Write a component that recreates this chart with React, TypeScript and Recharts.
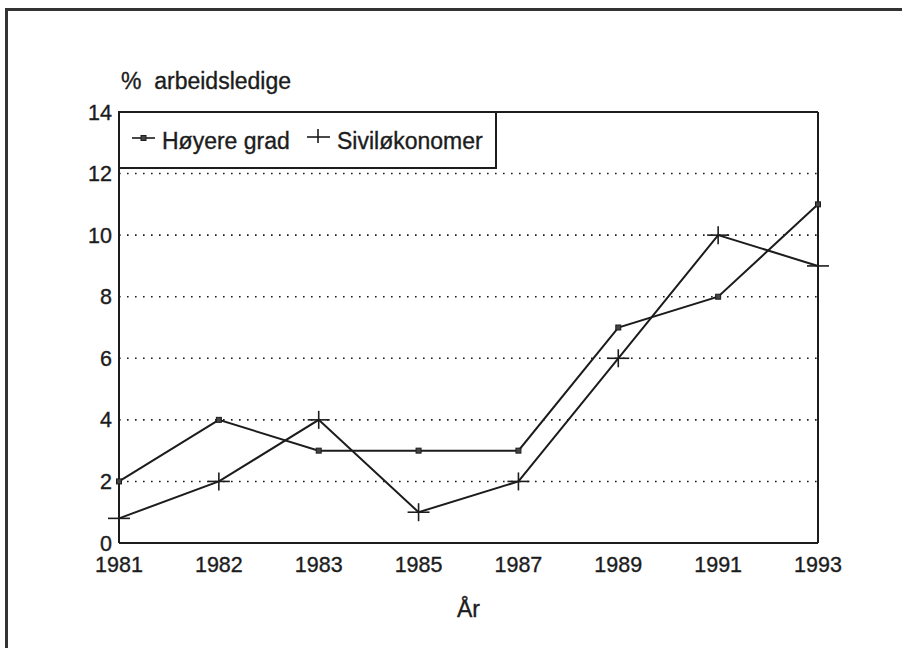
import React from 'react';
import { LineChart, Line, XAxis, YAxis, CartesianGrid, ReferenceLine } from 'recharts';

const years = ['1981', '1982', '1983', '1985', '1987', '1989', '1991', '1993'];
const hoyereGrad = [2, 4, 3, 3, 3, 7, 8, 11];
const sivilokonomer = [0.8, 2, 4, 1, 2, 6, 10, 9];
const yTicks = [0, 2, 4, 6, 8, 10, 12, 14];
const seriesNames = ['Høyere grad', 'Siviløkonomer'];

const data = years.map((y, i) => ({ year: y, hoyere: hoyereGrad[i], sivil: sivilokonomer[i] }));

const INK = '#1c1c1c';
const FONT = '"Liberation Sans", Arial, Helvetica, sans-serif';
const TXT = { stroke: INK, strokeWidth: 0.35 };

const SquareDot = (props: any) => {
  const { cx, cy } = props;
  if (cx == null || cy == null) return null;
  return <rect x={cx - 2.5} y={cy - 2.5} width={5} height={5} fill="#444" stroke={INK} strokeWidth={1} />;
};

const PlusDot = (props: any) => {
  const { cx, cy } = props;
  if (cx == null || cy == null) return null;
  return (
    <g stroke={INK} strokeWidth={1.6}>
      <line x1={cx - 11} y1={cy} x2={cx + 11} y2={cy} />
      <line x1={cx} y1={cy - 9} x2={cx} y2={cy + 9} />
    </g>
  );
};

export default function App() {
  return (
    <div style={{ position: 'absolute', left: 0, top: 0, width: 902, height: 648, overflow: 'hidden', background: '#fff', fontFamily: FONT }}>
      <div style={{ position: 'absolute', left: 5, top: 8, width: 1200, height: 1200, borderLeft: '3px solid #333', borderTop: '3px solid #333' }} />
      <div style={{ position: 'absolute', left: 0, top: 0 }}>
        <LineChart width={902} height={648} data={data} margin={{ top: 112, right: 84, bottom: 65, left: 0 }}>
          <CartesianGrid vertical={false} stroke={INK} strokeWidth={1.6} strokeDasharray="1.6 6.4" />
          <XAxis
            dataKey="year"
            type="category"
            height={40}
            tickSize={0}
            tickMargin={14}
            axisLine={{ stroke: INK, strokeWidth: 2 }}
            tick={{ fill: INK, fontSize: 21.5, fontFamily: FONT, ...TXT }}
            interval={0}
            label={{
              content: (p: any) => {
                const vb = p.viewBox || {};
                return (
                  <text x={vb.x + vb.width / 2} y={617} textAnchor="middle" fill={INK} fontSize={23} fontFamily={FONT} {...TXT}>
                    År
                  </text>
                );
              },
            }}
          />
          <YAxis
            type="number"
            domain={[0, 14]}
            ticks={yTicks}
            width={119}
            tickSize={0}
            tickMargin={7}
            axisLine={{ stroke: INK, strokeWidth: 2 }}
            tick={{ fill: INK, fontSize: 21.5, fontFamily: FONT, ...TXT }}
            interval={0}
            label={{
              content: () => (
                <text x={121} y={89} fill={INK} fontSize={23} fontFamily={FONT} style={{ whiteSpace: 'pre' }} {...TXT}>
                  {'%  arbeidsledige'}
                </text>
              ),
            }}
          />
          <ReferenceLine y={14} stroke={INK} strokeWidth={2} />
          <ReferenceLine x="1993" stroke={INK} strokeWidth={2} />
          <Line
            dataKey="hoyere"
            name={seriesNames[0]}
            stroke={INK}
            strokeWidth={2}
            dot={<SquareDot />}
            isAnimationActive={false}
          />
          <Line
            dataKey="sivil"
            name={seriesNames[1]}
            stroke={INK}
            strokeWidth={2}
            dot={<PlusDot />}
            isAnimationActive={false}
          />
        </LineChart>
      </div>
      <div
        style={{
          position: 'absolute',
          left: 118,
          top: 111,
          width: 379,
          height: 58,
          border: `2px solid ${INK}`,
          background: '#fff',
          boxSizing: 'border-box',
        }}
      >
        <svg width={379} height={58} style={{ position: 'absolute', left: -2, top: -2 }}>
          <g stroke={INK}>
            <line x1={14} y1={27} x2={37} y2={27} strokeWidth={1.6} />
            <rect x={23} y={24.5} width={5} height={5} fill="#444" strokeWidth={1} />
          </g>
          <text x={44} y={38} fill={INK} fontSize={23} fontFamily={FONT} {...TXT}>{seriesNames[0]}</text>
          <g stroke={INK} strokeWidth={1.6}>
            <line x1={189} y1={26} x2={212} y2={26} />
            <line x1={200} y1={18} x2={200} y2={32} />
          </g>
          <text x={219} y={38} fill={INK} fontSize={23} fontFamily={FONT} {...TXT}>{seriesNames[1]}</text>
        </svg>
      </div>
    </div>
  );
}
